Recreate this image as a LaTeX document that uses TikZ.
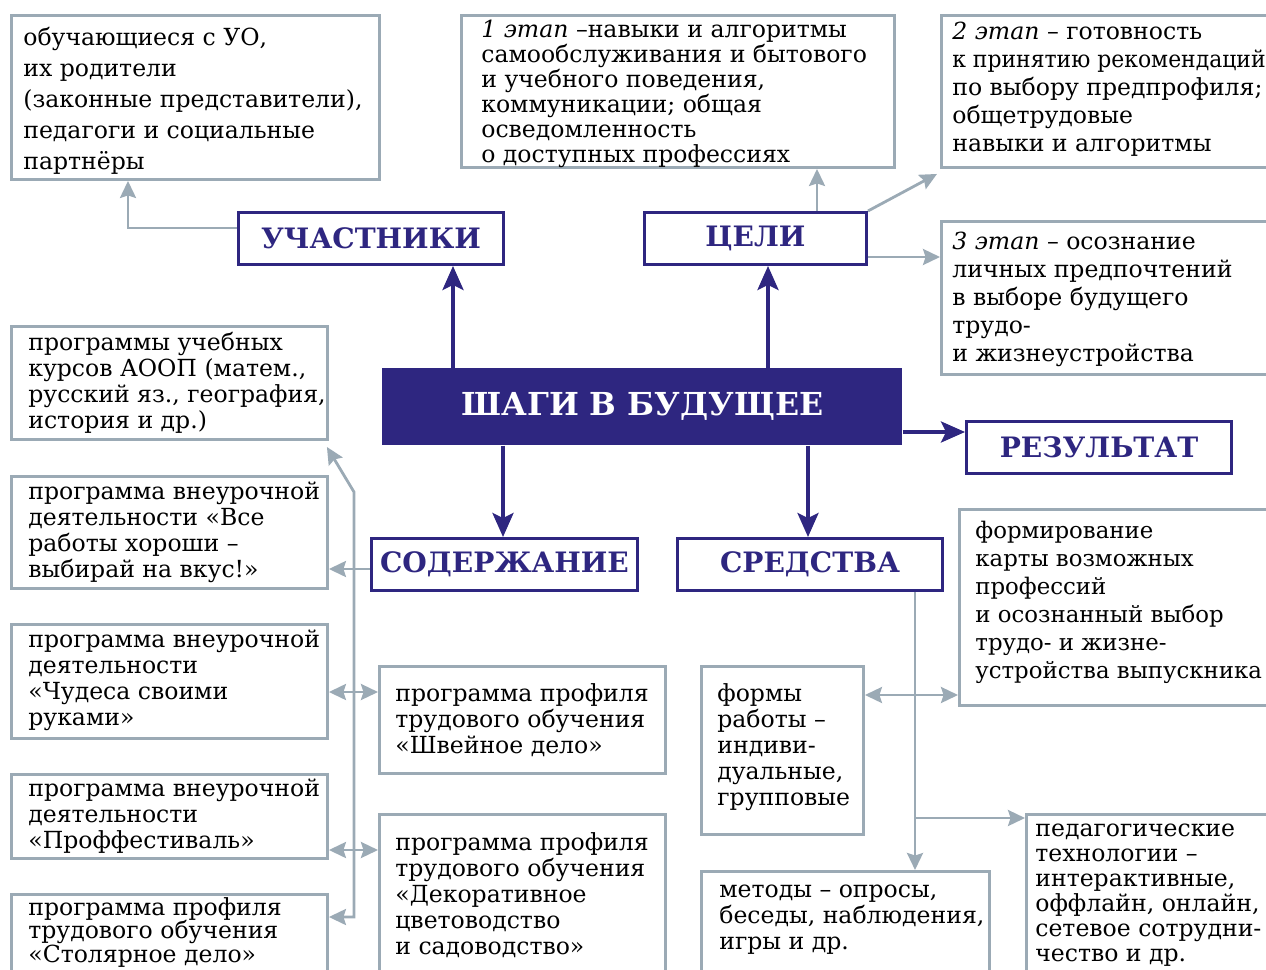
\documentclass[tikz,border=0pt]{standalone}
\usepackage{fontspec}
\usepackage{graphicx}
\setmainfont{DejaVu Serif}
\usetikzlibrary{arrows.meta, positioning, calc}
\definecolor{stepblue}{RGB}{46, 38, 128}
\definecolor{linegray}{RGB}{155, 170, 181}

\begin{document}
\begin{tikzpicture}[
    x=0.02cm, y=-0.02cm,
    gbox/.style={draw=linegray, line width=1.7pt, anchor=north west, inner sep=0pt},
    hbox/.style={draw=stepblue, line width=1.7pt, anchor=north west, inner sep=0pt, text=stepblue, font=\fontsize{16}{16}\selectfont\bfseries, minimum height=1.04cm},
    mainbox/.style={fill=stepblue, anchor=north west, inner sep=0pt, text=white, font=\fontsize{18}{18}\selectfont\bfseries, minimum width=10.4cm, minimum height=1.54cm},
    txt/.style={anchor=north west, align=left, inner sep=0pt, font=\fontsize{13.4}{#1}\selectfont},
    txt/.default=14.8,
    darr/.style={draw=stepblue, line width=2pt, -{Stealth[length=0.48cm, width=0.42cm, inset=0.1cm]}},
    garr/.style={draw=linegray, line width=1.6pt, -{Stealth[length=0.34cm, width=0.32cm, inset=0.05cm]}},
    garr2/.style={draw=linegray, line width=1.6pt, {Stealth[length=0.34cm, width=0.32cm, inset=0.05cm]}-{Stealth[length=0.34cm, width=0.32cm, inset=0.05cm]}},
]
    \clip (0,0) rectangle (1266,969);

    % Centre and headings
    \node[mainbox] (main) at (382,368) {ШАГИ В БУДУЩЕЕ};
    \node[hbox, minimum width=5.3cm] (uch) at (237,211) {УЧАСТНИКИ};
    \node[hbox, minimum width=4.44cm] (goal) at (643,211) {ЦЕЛИ};
    \node[hbox, minimum width=5.3cm] (res) at (965,420) {РЕЗУЛЬТАТ};
    \node[hbox, minimum width=5.32cm] (cont) at (370,537) {СОДЕРЖАНИЕ};
    \node[hbox, minimum width=5.3cm] (means) at (676,537) {СРЕДСТВА};

    % Participants and goals
    \node[gbox, minimum width=7.36cm, minimum height=3.28cm] (part) at (10,14) {};
    \node[txt=17.6] (part-t) at (23,27) {обучающиеся с УО,\\их родители\\(законные представители),\\педагоги и социальные\\партнёры};

    \node[gbox, minimum width=8.66cm, minimum height=3.04cm] (st1) at (460,14) {};
    \node[txt=14.2] (st1-t) at (481,20) {\textit{1 этап} –навыки и алгоритмы\\самообслуживания и бытового\\и учебного поведения,\\коммуникации; общая\\осведомленность\\о доступных профессиях};

    \node[gbox, minimum width=6.8cm, minimum height=3.04cm] (st2) at (940,14) {};
    \node[txt=15.9] (st2-t) at (952,22) {\textit{2 этап} – готовность\\\scalebox{0.93}[1]{к принятию рекомендаций}\\по выбору предпрофиля;\\общетрудовые\\навыки и алгоритмы};

    \node[gbox, minimum width=6.8cm, minimum height=3.06cm] (st3) at (940,220) {};
    \node[txt=15.9] (st3-t) at (952,232) {\textit{3 этап} – осознание\\личных предпочтений\\в выборе будущего\\трудо-\\и жизнеустройства};

    % Content programmes
    \node[gbox, minimum width=6.32cm, minimum height=2.26cm] (course) at (10,325) {};
    \node[txt] (course-t) at (28,332) {программы учебных\\курсов АООП (матем.,\\русский яз., география,\\история и др.)};

    \node[gbox, minimum width=6.32cm, minimum height=2.24cm] (ex1) at (10,475) {};
    \node[txt] (ex1-t) at (28,482) {программа внеурочной\\деятельности «Все\\работы хороши –\\выбирай на вкус!»};

    \node[gbox, minimum width=6.32cm, minimum height=2.28cm] (ex2) at (10,623) {};
    \node[txt] (ex2-t) at (28,630) {программа внеурочной\\деятельности\\«Чудеса своими\\руками»};

    \node[gbox, minimum width=6.32cm, minimum height=1.68cm] (ex3) at (10,773) {};
    \node[txt] (ex3-t) at (28,779) {программа внеурочной\\деятельности\\«Проффестиваль»};

    \node[gbox, minimum width=6.32cm, minimum height=2cm] (join) at (10,893) {};
    \node[txt=13.5] (join-t) at (28,897) {программа профиля\\трудового обучения\\«Столярное дело»};

    \node[gbox, minimum width=5.72cm, minimum height=2.14cm] (sew) at (378,665) {};
    \node[txt] (sew-t) at (395,683) {программа профиля\\трудового обучения\\«Швейное дело»};

    \node[gbox, minimum width=5.72cm, minimum height=3.6cm] (dec) at (378,813) {};
    \node[txt] (dec-t) at (395,832) {программа профиля\\трудового обучения\\«Декоративное\\цветоводство\\и садоводство»};

    % Means
    \node[gbox, minimum width=6.4cm, minimum height=3.92cm] (map) at (958,508) {};
    \node[txt=15.9, font=\fontsize{13}{15.9}\selectfont] (map-t) at (975,521) {формирование\\карты возможных\\профессий\\и осознанный выбор\\трудо- и жизне-\\устройства выпускника};

    \node[gbox, minimum width=3.24cm, minimum height=3.36cm] (forms) at (700,665) {};
    \node[txt] (forms-t) at (717,683) {формы\\работы –\\индиви-\\дуальные,\\групповые};

    \node[gbox, minimum width=5.76cm, minimum height=2.4cm] (meth) at (700,870) {};
    \node[txt] (meth-t) at (719,885) {методы – опросы,\\беседы, наблюдения,\\игры и др.};

    \node[gbox, minimum width=5.2cm, minimum height=3.6cm] (ped) at (1025,813) {};
    \node[txt=14.2] (ped-t) at (1035,824) {педагогические\\технологии –\\интерактивные,\\оффлайн, онлайн,\\сетевое сотрудни-\\чество и др.};

    % Main arrows
    \coordinate (xu) at (453,0);
    \coordinate (xg) at (768,0);
    \coordinate (xc) at (503,0);
    \coordinate (xm) at (808,0);
    \coordinate (yr) at (0,432);
    \draw[darr] (main.north -| xu) -- (uch.south -| xu);
    \draw[darr] (main.north -| xg) -- (goal.south -| xg);
    \draw[darr] (main.south -| xc) -- (cont.north -| xc);
    \draw[darr] (main.south -| xm) -- (means.north -| xm);
    \draw[darr] (main.east |- yr) -- (res.west |- yr);

    % Participants and goals links
    \coordinate (yu) at (0,228);
    \coordinate (xp) at (128,0);
    \coordinate (xs1) at (817,0);
    \coordinate (ys3) at (0,257);
    \draw[garr] (uch.west |- yu) -| (part.south -| xp);
    \draw[garr] (goal.north -| xs1) -- (st1.south -| xs1);
    \draw[garr] (goal.north east) -- ([shift={(-3,5)}]st2.south west);
    \draw[garr] (goal.east |- ys3) -- (st3.west |- ys3);

    % Content links
    \coordinate (sp-top) at (354,492);
    \coordinate (sp-bot) at (354,917);
    \coordinate (yc) at (0,569);
    \coordinate (y2) at (0,692);
    \coordinate (y3) at (0,850);
    \draw[garr] (cont.west |- yc) -- (ex1.east |- yc);
    \draw[garr2] ([shift={(-2,6)}]course.south east) -- (sp-top) -- (sp-bot) -- (join.east |- sp-bot);
    \draw[garr2] (ex2.east |- y2) -- (sew.west |- y2);
    \draw[garr2] (ex3.east |- y3) -- (dec.west |- y3);

    % Means links
    \coordinate (xr) at (915,0);
    \coordinate (yf) at (0,695);
    \coordinate (yp) at (0,818);
    \draw[garr] (means.south -| xr) -- (meth.north -| xr);
    \draw[garr2] (forms.east |- yf) -- (map.west |- yf);
    \draw[garr] (xr |- yp) -- (ped.west |- yp);
\end{tikzpicture}
\end{document}
